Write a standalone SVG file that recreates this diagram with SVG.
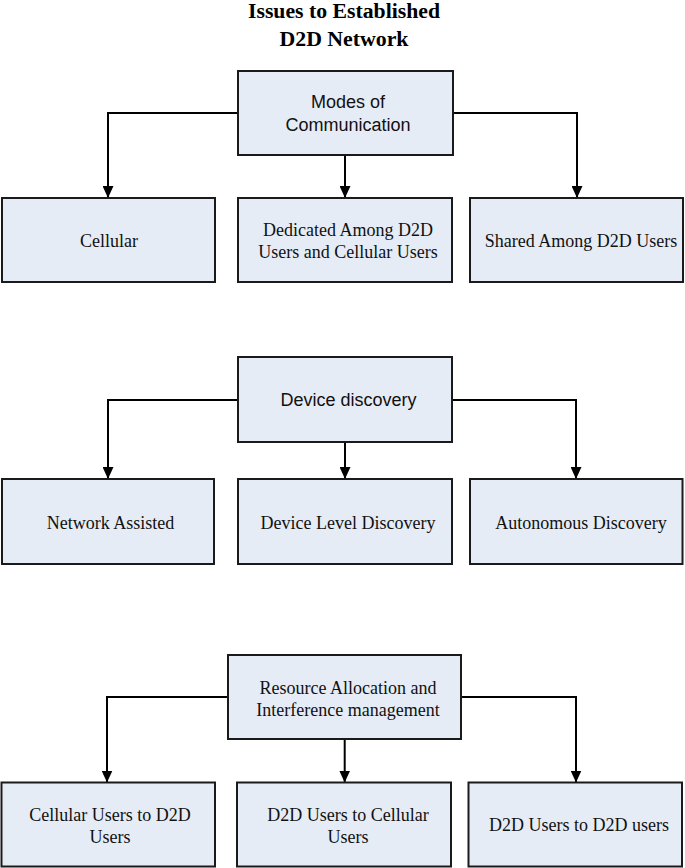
<svg xmlns="http://www.w3.org/2000/svg" width="685" height="868" viewBox="0 0 685 868">
<style>
.box{fill:#e6ecf6;stroke:#1a1a1a;stroke-width:2}
.conn{fill:none;stroke:#000;stroke-width:2}
.serif{font-family:"Liberation Serif","Times New Roman",serif;font-size:18px;fill:#111;text-anchor:middle}
.sans{font-family:"Liberation Sans",Arial,sans-serif;font-size:18px;fill:#111;text-anchor:middle}
.title{font-family:"Liberation Serif","Times New Roman",serif;font-size:20px;font-weight:bold;fill:#000;text-anchor:middle}
</style>
<defs>
<marker id="arrow" viewBox="0 0 12 11" refX="12" refY="5.5" markerWidth="12" markerHeight="11" markerUnits="userSpaceOnUse" orient="auto">
<path d="M0,0 L12,5.5 L0,11 z" fill="#000"/>
</marker>
</defs>
<g id="title">
<text class="title" x="344" y="17.5" textLength="192" lengthAdjust="spacingAndGlyphs">Issues to Established</text>
<text class="title" x="344" y="46" textLength="129" lengthAdjust="spacingAndGlyphs">D2D Network</text>
</g>
<g id="connectors">
<path class="conn" marker-end="url(#arrow)" d="M238,113 H108 V198"/>
<path class="conn" marker-end="url(#arrow)" d="M453,113 H577 V198"/>
<path class="conn" marker-end="url(#arrow)" d="M345,155 V198"/>
<path class="conn" marker-end="url(#arrow)" d="M238,400 H108 V479"/>
<path class="conn" marker-end="url(#arrow)" d="M452,400 H576 V479"/>
<path class="conn" marker-end="url(#arrow)" d="M345,442 V479"/>
<path class="conn" marker-end="url(#arrow)" d="M228,697 H107 V782.5"/>
<path class="conn" marker-end="url(#arrow)" d="M461,697 H576 V782.5"/>
<path class="conn" marker-end="url(#arrow)" d="M344.7,739 V782.5"/>
</g>
<g id="modes">
<rect class="box" x="238" y="71" width="215" height="84"/>
<text class="sans" x="348" y="108">Modes of</text>
<text class="sans" x="348" y="130.5">Communication</text>
</g>
<g id="cellular">
<rect class="box" x="2" y="198" width="213" height="84"/>
<text class="serif" x="109" y="247">Cellular</text>
</g>
<g id="dedicated">
<rect class="box" x="238" y="198" width="214" height="84"/>
<text class="serif" x="348" y="235.5">Dedicated Among D2D</text>
<text class="serif" x="348" y="257.5">Users and Cellular Users</text>
</g>
<g id="shared">
<rect class="box" x="470" y="198" width="213" height="84"/>
<text class="serif" x="581" y="247">Shared Among D2D Users</text>
</g>
<g id="discovery">
<rect class="box" x="238" y="357" width="214" height="85"/>
<text class="sans" x="348.5" y="406">Device discovery</text>
</g>
<g id="network-assisted">
<rect class="box" x="2" y="479" width="212" height="85"/>
<text class="serif" x="110.5" y="528.5">Network Assisted</text>
</g>
<g id="device-level">
<rect class="box" x="238" y="479" width="214" height="85"/>
<text class="serif" x="348" y="528.5">Device Level Discovery</text>
</g>
<g id="autonomous">
<rect class="box" x="470" y="479" width="212.5" height="85"/>
<text class="serif" x="581" y="528.5">Autonomous Discovery</text>
</g>
<g id="resource">
<rect class="box" x="228" y="655" width="233" height="84"/>
<text class="serif" x="348" y="694">Resource Allocation and</text>
<text class="serif" x="348" y="716">Interference management</text>
</g>
<g id="cell-to-d2d">
<rect class="box" x="1.5" y="782.5" width="213.5" height="84"/>
<text class="serif" x="110" y="821">Cellular Users to D2D</text>
<text class="serif" x="110" y="843">Users</text>
</g>
<g id="d2d-to-cell">
<rect class="box" x="237" y="782.5" width="214" height="84"/>
<text class="serif" x="348" y="821">D2D Users to Cellular</text>
<text class="serif" x="348" y="843">Users</text>
</g>
<g id="d2d-to-d2d">
<rect class="box" x="468.5" y="782.5" width="213.5" height="84"/>
<text class="serif" x="579" y="831">D2D Users to D2D users</text>
</g>
</svg>
